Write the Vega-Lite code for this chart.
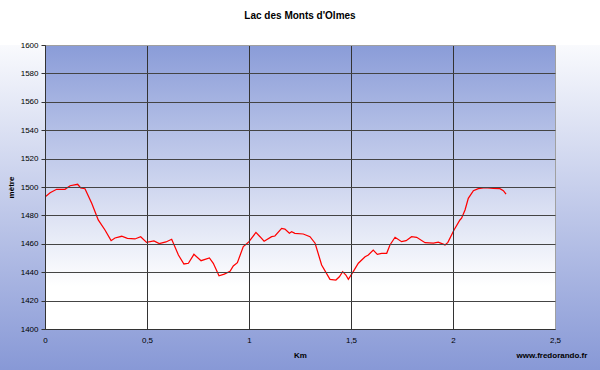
{
  "$schema": "https://vega.github.io/schema/vega-lite/v6.json",
  "width": 510,
  "height": 284,
  "autosize": {"type": "none"},
  "padding": {"left": 45, "top": 45, "right": 45, "bottom": 41},
  "background": "#ffffff",
  "config": {"view": {"stroke": null}, "font": "Liberation Sans"},
  "title": {"text": "Lac des Monts d'Olmes", "fontSize": 10, "fontWeight": "bold", "font": "Liberation Sans", "color": "#000000", "offset": 20, "anchor": "middle"},
  "data": {"values": [
    {"km": 0, "elev": 1493}, {"km": 0.025, "elev": 1496}, {"km": 0.057, "elev": 1498.4}, {"km": 0.098, "elev": 1498.4},
    {"km": 0.123, "elev": 1500.9}, {"km": 0.16, "elev": 1501.9}, {"km": 0.175, "elev": 1499.3}, {"km": 0.196, "elev": 1498.8},
    {"km": 0.229, "elev": 1488.5}, {"km": 0.261, "elev": 1476.8}, {"km": 0.294, "elev": 1469.7}, {"km": 0.324, "elev": 1462.2},
    {"km": 0.343, "elev": 1464.1}, {"km": 0.376, "elev": 1465.3}, {"km": 0.404, "elev": 1463.9}, {"km": 0.441, "elev": 1463.4},
    {"km": 0.469, "elev": 1465}, {"km": 0.498, "elev": 1461}, {"km": 0.534, "elev": 1462}, {"km": 0.56, "elev": 1460.1},
    {"km": 0.593, "elev": 1461.3}, {"km": 0.621, "elev": 1463.2}, {"km": 0.654, "elev": 1452.1}, {"km": 0.681, "elev": 1445.8},
    {"km": 0.703, "elev": 1446.3}, {"km": 0.73, "elev": 1452.6}, {"km": 0.765, "elev": 1448.1}, {"km": 0.806, "elev": 1450},
    {"km": 0.825, "elev": 1446.3}, {"km": 0.853, "elev": 1437.5}, {"km": 0.879, "elev": 1438.7}, {"km": 0.907, "elev": 1440.6},
    {"km": 0.923, "elev": 1444.4}, {"km": 0.943, "elev": 1446.7}, {"km": 0.972, "elev": 1458}, {"km": 0.989, "elev": 1460},
    {"km": 1.0, "elev": 1461.5}, {"km": 1.034, "elev": 1468}, {"km": 1.054, "elev": 1465}, {"km": 1.074, "elev": 1461.8},
    {"km": 1.111, "elev": 1465}, {"km": 1.127, "elev": 1465.5}, {"km": 1.16, "elev": 1470.9}, {"km": 1.176, "elev": 1470.4},
    {"km": 1.198, "elev": 1467.4}, {"km": 1.209, "elev": 1468.5}, {"km": 1.225, "elev": 1467.4}, {"km": 1.266, "elev": 1466.9},
    {"km": 1.299, "elev": 1465}, {"km": 1.324, "elev": 1460.4}, {"km": 1.356, "elev": 1445.1}, {"km": 1.397, "elev": 1435},
    {"km": 1.426, "elev": 1434.5}, {"km": 1.443, "elev": 1436.8}, {"km": 1.459, "elev": 1440.4}, {"km": 1.475, "elev": 1438},
    {"km": 1.487, "elev": 1435}, {"km": 1.511, "elev": 1440.4}, {"km": 1.536, "elev": 1446.3}, {"km": 1.569, "elev": 1450.9},
    {"km": 1.585, "elev": 1452.1}, {"km": 1.609, "elev": 1455.6}, {"km": 1.629, "elev": 1452.6}, {"km": 1.65, "elev": 1453.3},
    {"km": 1.675, "elev": 1453.3}, {"km": 1.691, "elev": 1459.2}, {"km": 1.716, "elev": 1464.6}, {"km": 1.748, "elev": 1461.5},
    {"km": 1.77, "elev": 1462.2}, {"km": 1.797, "elev": 1465}, {"km": 1.822, "elev": 1464.6}, {"km": 1.863, "elev": 1460.8},
    {"km": 1.904, "elev": 1460.4}, {"km": 1.928, "elev": 1461.2}, {"km": 1.961, "elev": 1459.2}, {"km": 1.975, "elev": 1461},
    {"km": 2.005, "elev": 1469.7}, {"km": 2.034, "elev": 1476.8}, {"km": 2.042, "elev": 1478}, {"km": 2.059, "elev": 1483.8},
    {"km": 2.075, "elev": 1492}, {"km": 2.1, "elev": 1497.4}, {"km": 2.124, "elev": 1498.8}, {"km": 2.157, "elev": 1499.5},
    {"km": 2.198, "elev": 1499.1}, {"km": 2.23, "elev": 1498.8}, {"km": 2.247, "elev": 1497.4}, {"km": 2.26, "elev": 1495}
  ]},
  "layer": [
    {
      "data": {"values": [{"area": "outer"}]},
      "mark": {"type": "rect", "clip": false, "fill": {"gradient": "linear", "x1": 0, "y1": 0, "x2": 0, "y2": 1, "stops": [{"offset": 0, "color": "#f9fafd"}, {"offset": 1, "color": "#8798d6"}]}},
      "encoding": {
        "x": {"datum": -0.23, "type": "quantitative", "scale": {"domain": [0, 2.5], "nice": false, "zero": false},
          "axis": {"values": [0, 0.5, 1, 1.5, 2, 2.5], "labelExpr": "replace(toString(datum.value), '.', ',')", "grid": true, "labelOverlap": false,
            "gridColor": {"condition": {"test": "datum.value == 2.5", "value": "#a0a0a0"}, "value": "#333333"}, "gridOpacity": 1, "gridWidth": 1,
            "domainColor": "#333333", "ticks": false, "labelFontSize": 8, "labelColor": "#000000", "labelPadding": 7, "labelFlush": false,
            "title": "Km", "titleFontSize": 8, "titleFontWeight": "bold", "titleColor": "#000000", "titlePadding": 7, "zindex": 1}},
        "x2": {"datum": 2.73},
        "y": {"datum": 1600, "type": "quantitative", "scale": {"domain": [1400, 1600], "nice": false, "zero": false},
          "axis": {"values": [1400, 1420, 1440, 1460, 1480, 1500, 1520, 1540, 1560, 1580, 1600], "format": "d", "labelOverlap": false, "grid": true, "tickCount": 11,
            "gridColor": {"condition": {"test": "datum.value == 1600", "value": "#a0a0a0"}, "value": "#444444"}, "gridOpacity": 1, "gridWidth": 1,
            "domainColor": "#333333", "tickColor": "#333333", "tickSize": 4, "labelFontSize": 8, "labelColor": "#000000", "labelPadding": 3,
            "title": "mètre", "titleFontSize": 8, "titleFontWeight": "bold", "titleColor": "#000000", "titlePadding": 5, "zindex": 1}},
        "y2": {"datum": 1370}
      }
    },
    {
      "data": {"values": [{"area": "plot"}]},
      "mark": {"type": "rect", "fill": {"gradient": "linear", "x1": 0, "y1": 0, "x2": 0, "y2": 1, "stops": [{"offset": 0, "color": "#8a9cd8"}, {"offset": 0.85, "color": "#ffffff"}, {"offset": 1, "color": "#ffffff"}]}},
      "encoding": {
        "x": {"datum": 0, "type": "quantitative"},
        "x2": {"datum": 2.5},
        "y": {"datum": 1600, "type": "quantitative"},
        "y2": {"datum": 1400}
      }
    },
    {
      "mark": {"type": "line", "color": "#ff0000", "strokeWidth": 1.25, "clip": true},
      "encoding": {
        "x": {"field": "km", "type": "quantitative"},
        "y": {"field": "elev", "type": "quantitative"}
      }
    },
    {
      "data": {"values": [{"site": "www.fredorando.fr"}]},
      "mark": {"type": "text", "clip": false, "fontSize": 8, "fontWeight": "bold", "color": "#000000", "align": "center", "baseline": "middle"},
      "encoding": {
        "text": {"field": "site"},
        "x": {"datum": 2.485, "type": "quantitative"},
        "y": {"datum": 1381, "type": "quantitative"}
      }
    }
  ]
}
